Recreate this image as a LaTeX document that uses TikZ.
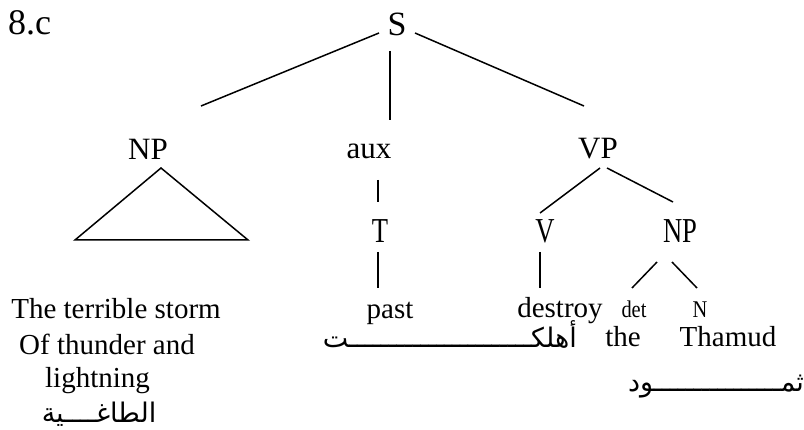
\documentclass[tikz,border=0pt]{standalone}
\usepackage{fontspec}
\usepackage{graphicx}
\setmainfont{Liberation Serif}
\newfontfamily\arabicfont[Script=Arabic]{DejaVu Sans}
\TeXXeTstate=1
\newcommand{\cnd}[2][0.76]{\scalebox{#1}[1]{#2}}
\tikzset{
  lbl/.style={font=\fontsize{29}{34}\selectfont, inner sep=0pt, anchor=base},
  cat/.style={font=\fontsize{31}{36}\selectfont, inner sep=0pt, anchor=base},
  big/.style={font=\fontsize{35}{40}\selectfont, inner sep=0pt, anchor=base},
  small/.style={font=\fontsize{24}{28}\selectfont, inner sep=0pt, anchor=base},
  ar/.style={font=\arabicfont\fontsize{27}{32}\selectfont, inner sep=0pt},
  branch/.style={line width=1.5pt}
}
\begin{document}
\begin{tikzpicture}[x=1pt,y=-1pt]
\useasboundingbox (0,0) rectangle (804,430);
% labels
\node[font=\fontsize{36}{40}\selectfont, inner sep=0pt, anchor=base west] (lab) at (8,35) {8.c};
\node[font=\fontsize{34}{40}\selectfont, inner sep=0pt, anchor=base] (S) at (397,36) {S};
\node[cat] (NPa) at (148,160) {NP};
\node[cat] (aux) at (369,159) {aux};
\node[cat] (VP) at (598,159) {VP};
\node[big] (T) at (380,243) {\cnd{T}};
\node[big] (V) at (545,243) {\cnd{V}};
\node[big] (NPb) at (680,243) {\cnd{NP}};
\node[lbl] (past) at (390,319) {past};
\node[lbl] (destroy) at (560,318) {destroy};
\node[small] (det) at (634,318) {\cnd[0.85]{det}};
\node[small] (N) at (700,318) {\cnd[0.85]{N}};
\node[lbl] (the) at (623,347) {the};
\node[lbl] (thamud) at (728,347) {Thamud};
\node[lbl] (l1) at (116,319) {The terrible storm};
\node[lbl] (l2) at (107,355) {Of thunder and};
\node[lbl] (l3) at (97.5,388) {lightning};
\node[ar, anchor=base east] (ahlakat) at (577,348) {\beginR أهلكـــــــــــــــــــــــت\endR};
\node[ar, anchor=base west] (thamudar) at (628,392) {\beginR ثمــــــــــــــــود\endR};
\node[ar, anchor=base] (taghiya) at (99,423) {\beginR الطاغــــية\endR};
% branches
\draw[branch] ([shift={(-18,-3)}]S.base) -- ([shift={(53,-54)}]NPa.base);
\draw[branch] ([shift={(-7,15)}]S.base) -- ([shift={(21,-39)}]aux.base);
\draw[branch] ([shift={(18,-3)}]S.base) -- ([shift={(-14,-53)}]VP.base);
\draw[branch] ([shift={(13,8)}]NPa.base) -- ([shift={(-73,80)}]NPa.base) -- ([shift={(100,80)}]NPa.base) -- cycle;
\draw[branch] ([shift={(9,21)}]aux.base) -- ([shift={(-2,-41)}]T.base);
\draw[branch] ([shift={(-2,9)}]T.base) -- ([shift={(-12,-31)}]past.base);
\draw[branch] ([shift={(2,9)}]VP.base) -- ([shift={(-5,-30)}]V.base);
\draw[branch] ([shift={(9,9)}]VP.base) -- ([shift={(-7,-41)}]NPb.base);
\draw[branch] ([shift={(-5,9)}]V.base) -- ([shift={(-20,-30)}]destroy.base);
\draw[branch] ([shift={(-23,19)}]NPb.base) -- ([shift={(-2,-30)}]det.base);
\draw[branch] ([shift={(-8,19)}]NPb.base) -- ([shift={(-3,-30)}]N.base);
\end{tikzpicture}
\end{document}
